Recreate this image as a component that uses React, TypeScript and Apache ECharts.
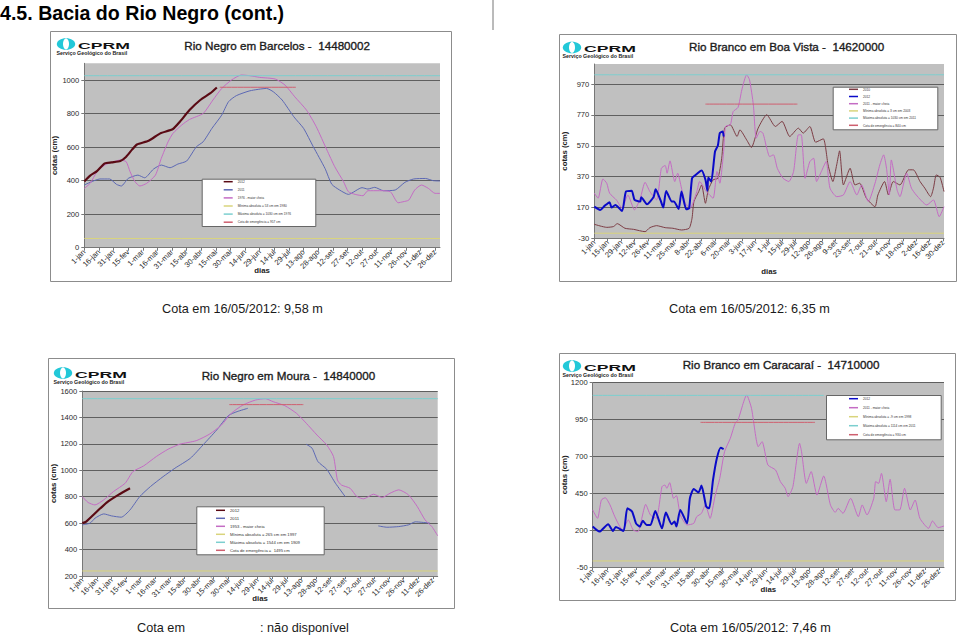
import React, { useEffect, useRef } from "react";
import * as echarts from "echarts";

const FONT = "Liberation Sans";
const labels15 = ["1-jan","16-jan","31-jan","15-fev","1-mar","16-mar","31-mar","15-abr","30-abr","15-mai","30-mai","14-jun","29-jun","14-jul","29-jul","13-ago","28-ago","12-set","27-set","12-out","27-out","11-nov","26-nov","11-dez","26-dez"];
const labels14 = ["1-jan","15-jan","29-jan","12-fev","26-fev","11-mar","25-mar","8-abr","22-abr","6-mai","20-mai","3-jun","17-jun","1-jul","15-jul","29-jul","12-ago","26-ago","9-set","23-set","7-out","21-out","4-nov","18-nov","2-dez","16-dez","30-dez"];

// Barcelos
const barY2012Days = [0,6,13,21,28,37,43,49,54,66,78,91,98,108,119,129,136];
const barY2012Vals = [395,430,457,503,509,517,543,585,616,638,682,708,751,821,881,920,956];
const barPinkDays = [0,6,13,21,28,37,43,47,52,57,64,73,79,86,91,100,108,122,132,141,151,161,170,180,196,206,216,228,238,249,257,266,271,278,286,291,303,314,322,327,333,339,346,353,360,365];
const barPinkVals = [354,384,453,493,509,523,513,453,394,368,384,433,533,632,682,732,765,801,881,950,1000,1030,1026,1016,1006,970,900,821,722,582,483,394,334,318,310,340,340,334,268,274,284,344,374,354,324,324];
const barBlueDays = [0,6,16,26,33,38,45,55,62,71,79,88,96,105,115,122,131,141,148,156,170,187,194,203,215,225,235,247,254,262,271,285,291,298,307,319,329,338,350,358,365];
const barBlueVals = [374,390,410,410,378,368,413,433,417,469,493,477,499,517,602,632,712,791,871,907,936,950,930,881,781,712,602,473,378,344,318,358,350,360,340,344,390,410,413,400,398];
const barMin = [[0,55],[365,55]];
const barMax = [[0,1026],[365,1026]];
const barEmerg = [[139,957],[217,957]];
const barTicks = [0,200,400,600,800,1000];

// Boa Vista
const boaBlueDays = [0,6,11,16,18,22,29,33,39,42,48,49,55,62,64,69,72,75,81,83,88,91,96,99,102,105,112,116,118,119,122,126,129,131,134,135];
const boaBlueVals = [175,154,182,204,169,186,147,273,279,219,208,236,191,240,288,219,169,277,208,208,160,273,158,165,359,377,409,349,279,364,338,533,572,652,663,630];
const boaPinkDays = [0,4,9,13,16,23,29,35,42,48,53,58,65,70,74,76,79,84,87,91,95,100,107,110,117,124,128,131,135,137,142,145,150,154,159,162,166,169,173,176,180,183,187,191,197,203,208,213,216,220,225,229,232,237,242,246,253,260,267,274,279,286,293,298,302,305,308,310,316,319,326,331,336,347,354,360,365];
const boaPinkVals = [262,230,355,327,262,219,165,251,154,230,333,273,219,424,442,392,472,338,392,295,197,165,273,338,273,230,403,327,533,695,706,792,818,933,1030,998,836,619,663,652,554,500,511,424,359,338,403,641,641,359,468,489,338,403,468,295,240,251,338,251,316,208,327,446,511,424,251,478,284,240,392,295,251,186,219,110,175];
const boaBrownDays = [0,6,13,20,24,32,41,53,58,65,74,82,91,99,102,104,109,112,116,119,124,129,133,136,142,149,152,159,164,171,180,189,196,204,213,218,225,231,239,244,249,253,256,260,267,272,277,284,293,296,303,307,312,319,328,333,340,345,351,354,357,361,365];
const boaBrownVals = [61,50,41,46,65,35,28,13,39,52,39,35,24,35,100,208,273,316,197,284,349,359,489,684,706,630,673,608,559,684,771,695,728,630,684,652,695,593,615,446,338,446,537,316,424,316,327,230,175,251,338,251,338,316,414,414,338,295,240,295,381,364,273];
const boaMin = [[0,3],[365,3]];
const boaMax = [[0,1030],[365,1030]];
const boaEmerg = [[116,840],[212,840]];
const boaTicks = [-30,170,370,570,770,970];

// Moura
const mouY2012Days = [0,4,15,25,37,49];
const mouY2012Vals = [600,612,688,756,814,864];
const mouPinkDays = [0,6,13,22,32,44,52,63,76,88,100,117,131,143,153,165,178,188,196,208,220,230,241,251,258,262,266,275,282,289,299,308,316,325,335,344,352,359,365];
const mouPinkVals = [801,756,738,776,839,902,990,1033,1104,1159,1197,1224,1275,1343,1431,1494,1532,1542,1519,1489,1431,1356,1267,1192,1104,927,889,864,801,784,819,794,826,852,814,726,625,574,504];
const mouBlueDays = [0,8,13,22,30,40,49,59,70,83,95,111,124,138,150,159,170,200,230,236,242,251,260,270,290,304,313,325,335,342,357];
const mouBlueVals = [587,600,637,670,655,645,700,801,877,952,1015,1091,1192,1305,1414,1444,1469,null,1197,1167,1066,1008,902,801,null,579,569,574,587,610,600];
const mouMin = [[0,238],[365,238]];
const mouMax = [[0,1542],[365,1542]];
const mouEmerg = [[151,1497],[227,1497]];
const mouTicks = [200,400,600,800,1000,1200,1400,1600];

// Caracarai
const carBlueDays = [0,7,16,21,24,32,36,41,45,49,52,56,60,65,72,76,82,85,87,91,98,101,105,110,113,118,121,125,129,133,136];
const carBlueVals = [224,190,240,194,221,194,348,325,246,224,264,235,235,330,212,319,240,258,224,337,246,416,479,456,502,359,348,540,687,759,750];
const carPinkDays = [0,5,9,13,18,23,31,37,42,47,51,55,60,66,72,75,77,80,84,87,91,98,105,108,113,117,122,127,132,137,143,148,151,160,165,172,176,182,190,195,200,203,208,215,217,222,227,233,240,247,252,255,260,268,276,280,285,292,294,297,300,305,309,314,319,324,330,335,340,349,353,359,365];
const carPinkVals = [337,280,404,420,371,291,201,269,201,190,280,375,303,280,495,506,484,522,416,434,303,235,246,291,314,371,280,427,551,732,823,924,947,1116,1026,766,800,642,608,529,484,427,495,789,732,517,597,438,567,371,321,348,314,416,291,371,303,416,529,517,585,393,545,337,337,484,337,404,280,212,262,217,228];
const carMin = [[0,-9],[365,-9]];
const carMax = [[0,1114],[240,1114]];
const carEmerg = [[112,931],[231,931]];
const carTicks = [-50,200,450,700,950,1200];

const titles = ["Rio Negro em Barcelos -  14480002","Rio Branco em Boa Vista -  14620000","Rio Negro em Moura -  14840000","Rio Branco em Caracaraí -  14710000"];
const captions = ["Cota em 16/05/2012: 9,58 m","Cota em 16/05/2012: 6,35 m","Cota em",": não disponível","Cota em 16/05/2012: 7,46 m"];

const PINK = "#c46cc4", BLUE1 = "#5c68b4", DARK = "#5a0a14", NAVY = "#0a0ac8", BROWN = "#7c3c44", YEL = "#d9d47c", CYAN = "#7ccfcf", RED = "#cf5f6f";

const zip = (d: number[], v: (number | null)[]) => d.map((x, i) => [x, v[i]]);

const panels = [
  { box: [50,31,401,250], grid: [84.3,63.3,355.7,184.4], y: { min: 0, max: 1100, custom: barTicks }, labels: labels15, step: 15,
    title: [184.3,39.5], logo: [66,44], diasGap: 19, yGap: 26,
    legendBox: [201.7,178.7,113.6,47.3], legendAt: [223.7,179.2], legendGap: 3.1, legendFont: 3.2,
    series: [
      ["2012", zip(barY2012Days, barY2012Vals), DARK, 2.2],
      ["2011", zip(barBlueDays, barBlueVals), BLUE1, 1],
      ["1976 - maior cheia", zip(barPinkDays, barPinkVals), PINK, 1],
      ["Mínima absoluta = 53 cm em 1980", barMin, YEL, 1],
      ["Máxima absoluta = 1030 cm em 1976", barMax, CYAN, 1],
      ["Cota de emergência = 957 cm", barEmerg, RED, 1],
    ] },
  { box: [559,34,397,247], grid: [594.3,64,349.7,174.3], y: { min: -30, max: 1100, custom: boaTicks }, labels: labels14, step: 14,
    title: [689,40.5], logo: [572,47.5], diasGap: 29, yGap: 26,
    legendBox: [832.7,86.7,104.6,42.6], legendAt: [849,86.8], legendGap: 2.2, legendFont: 3.2,
    series: [
      ["2010", zip(boaBrownDays, boaBrownVals), BROWN, 1],
      ["2012", zip(boaBlueDays, boaBlueVals), NAVY, 2],
      ["2011 - maior cheia", zip(boaPinkDays, boaPinkVals), PINK, 1],
      ["Mínima absoluta = 3 cm em 2003", boaMin, YEL, 1],
      ["Máxima absoluta = 1030 cm em 2011", boaMax, CYAN, 1],
      ["Cota de emergência = 840 cm", boaEmerg, RED, 1],
    ] },
  { box: [48,358,406,250], grid: [82.3,391,355.4,185], y: { min: 200, max: 1600, custom: mouTicks }, labels: labels15, step: 15,
    title: [201.7,369.5], logo: [63,373], diasGap: 18, yGap: 25,
    legendBox: [196.3,506.3,127.4,48], legendAt: [216,507.8], legendGap: 3, legendFont: 4.2,
    series: [
      ["2012", zip(mouY2012Days, mouY2012Vals), DARK, 2.2],
      ["2011", zip(mouBlueDays, mouBlueVals), BLUE1, 1],
      ["1953 - maior cheia", zip(mouPinkDays, mouPinkVals), PINK, 1],
      ["Mínima absoluta = 265 cm em 1997", mouMin, YEL, 1],
      ["Máxima absoluta = 1544 cm em 1909", mouMax, CYAN, 1],
      ["Cota de emergência =  1495 cm", mouEmerg, RED, 1],
    ] },
  { box: [559,353,396,247], grid: [592.7,382.7,351.3,184.3], y: { min: -50, max: 1200, custom: carTicks }, labels: labels15, step: 15,
    title: [682.7,358.5], logo: [572,366], diasGap: 18, yGap: 24,
    legendBox: [826,395,114.7,44.3], legendAt: [849,396.2], legendGap: 4, legendFont: 3.2,
    series: [
      ["2012", zip(carBlueDays, carBlueVals), NAVY, 2],
      ["2011 - maior cheia", zip(carPinkDays, carPinkVals), PINK, 1],
      ["Mínima absoluta = -9 cm em 1998", carMin, YEL, 1],
      ["Máxima absoluta = 1114 cm em 2011", carMax, CYAN, 1],
      ["Cota de emergência = 930 cm", carEmerg, RED, 1],
    ] },
] as any[];

const text = (x: number, y: number, t: string, size: number, weight = "normal", extra: any = {}) => ({
  type: "text", x, y, z: 3,
  style: { text: t, fontFamily: FONT, fontSize: size, fontWeight: weight, fill: "#1a1a1a", ...extra },
});

function buildOption() {
  const graphic: any[] = [
    text(0, 2.5, "4.5. Bacia do Rio Negro (cont.)", 19.6, "bold", { fill: "#000" }),
    { type: "line", z: 3, shape: { x1: 493, y1: 0, x2: 493, y2: 30 }, style: { stroke: "#777", lineWidth: 1 } },
    text(162, 302, captions[0], 12.7),
    text(669, 302, captions[1], 12.7),
    text(137, 621, captions[2], 12.7),
    text(260, 621, captions[3], 12.7),
    text(670, 621, captions[4], 12.7),
  ];
  const grid: any[] = [], xAxis: any[] = [], yAxis: any[] = [], series: any[] = [], legend: any[] = [], title: any[] = [];
  panels.forEach((p, i) => {
    const [bx, by, bw, bh] = p.box;
    const [gx, gy, gw, gh] = p.grid;
    graphic.push({ type: "rect", z: -1, shape: { x: bx + 0.5, y: by + 0.5, width: bw, height: bh }, style: { fill: "#fff", stroke: "#8c8c8c", lineWidth: 1 } });
    const [lx, ly] = p.logo;
    graphic.push({ type: "ellipse", z: 3, shape: { cx: lx, cy: ly, rx: 9.2, ry: 5.8 }, style: { fill: "#22c8d8" } });
    graphic.push({ type: "ellipse", z: 3, shape: { cx: lx, cy: ly, rx: 3, ry: 5.4 }, style: { fill: "#fff" } });
    graphic.push({ type: "text", z: 3, x: lx + 12, y: ly - 3.5, scaleX: 1.8, style: { text: "CPRM", fontFamily: FONT, fontWeight: "bold", fontSize: 9.8, fill: "#111" } });
    graphic.push(text(lx - 9.5, ly + 6, "Serviço Geológico do Brasil", 5.3, "bold", { fill: "#222" }));
    const [lbx, lby, lbw, lbh] = p.legendBox;
    graphic.push({ type: "rect", z: 5, shape: { x: lbx + 0.5, y: lby + 0.5, width: lbw, height: lbh }, style: { fill: "#fff", stroke: "#666", lineWidth: 1 } });

    grid.push({ left: gx, top: gy, width: gw, height: gh, show: true, backgroundColor: "#c0c0c0", borderWidth: 0, z: 0 });
    xAxis.push({
      gridIndex: i, type: "value", min: 0, max: 365, interval: p.step, name: "dias", nameLocation: "middle", nameGap: p.diasGap, nameMoveOverlap: false,
      nameTextStyle: { fontFamily: FONT, fontSize: 7.8, fontWeight: "bold", color: "#222" },
      splitLine: { show: false },
      axisLine: { show: true, onZero: false, lineStyle: { color: "#777", width: 1 } },
      axisTick: { show: true, length: 3, lineStyle: { color: "#777" } },
      axisLabel: { rotate: 45, fontFamily: FONT, fontSize: 7.6, color: "#2a2a2a", margin: 3, hideOverlap: false, showMaxLabel: false,
        formatter: (v: number) => p.labels[Math.round(v / p.step)] ?? "" },
    });
    yAxis.push({
      gridIndex: i, type: "value", min: p.y.min, max: p.y.max, name: "cotas (cm)", nameLocation: "middle", nameGap: p.yGap, nameMoveOverlap: false,
      nameTextStyle: { fontFamily: FONT, fontSize: 7.8, fontWeight: "bold", color: "#222" },
      splitLine: { show: true, lineStyle: { color: "#5f5f5f", width: 1 } },
      axisLine: { show: true, onZero: false, lineStyle: { color: "#777", width: 1 } },
      axisTick: { show: true, length: 3, customValues: p.y.custom, lineStyle: { color: "#777" } },
      axisLabel: { fontFamily: FONT, fontSize: 7.6, color: "#2a2a2a", margin: 5, customValues: p.y.custom, formatter: (v: number) => String(v) },
    });
    title.push({ text: titles[i], left: p.title[0], top: p.title[1], padding: 0,
      textStyle: { fontFamily: FONT, fontSize: 11.65, fontWeight: "normal", color: "#1c1c1c", textBorderColor: "#1c1c1c", textBorderWidth: 0.35 } });
    p.series.forEach((s: any[]) => {
      series.push({
        type: "line", name: s[0], xAxisIndex: i, yAxisIndex: i, data: s[1], showSymbol: false, symbol: "none",
        smooth: 0.2, connectNulls: false, z: s[3] > 1.5 ? 3 : 2, lineStyle: { color: s[2], width: s[3] }, itemStyle: { color: s[2] },
      });
    });
    legend.push({
      orient: "vertical", left: p.legendAt[0], top: p.legendAt[1], padding: 0, itemGap: p.legendGap, itemWidth: 9, itemHeight: 1.5,
      icon: "rect", selectedMode: false, z: 6, inactiveColor: "#888",
      textStyle: { fontFamily: FONT, fontSize: p.legendFont, color: "#333", lineHeight: 5 },
      data: p.series.map((s: any[]) => ({ name: s[0], itemStyle: { color: s[2] } })),
    });
  });
  return { animation: false, backgroundColor: "#fff", title, grid, xAxis, yAxis, series, legend, graphic: { elements: graphic }, tooltip: { show: false } };
}

export default function App() {
  const ref = useRef<HTMLDivElement>(null);
  useEffect(() => {
    const chart = echarts.init(ref.current!, undefined, { renderer: "svg" });
    chart.setOption(buildOption() as any);
    return () => chart.dispose();
  }, []);
  return <div ref={ref} style={{ position: "absolute", left: 0, top: 0, width: 960, height: 639 }} />;
}
